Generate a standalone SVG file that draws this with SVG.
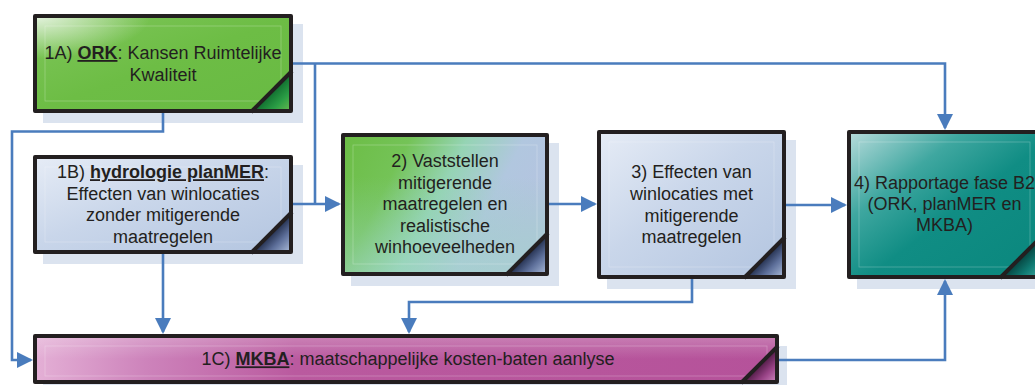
<svg xmlns="http://www.w3.org/2000/svg" width="1035" height="385" viewBox="0 0 1035 385">
  <style>
    .shadow { fill: #dbe3ef; }
    .frame { fill: none; stroke: #231f20; stroke-width: 4; stroke-linejoin: round; }
    .fold-line { stroke: #231f20; stroke-width: 4; stroke-linecap: butt; }
    .inner { fill: none; stroke: #ffffff; stroke-opacity: 0.28; stroke-width: 0.8; }
    .label { font-family: "Liberation Sans", Arial, sans-serif; font-size: 18px; fill: #231f20; text-anchor: middle; }
    .key { font-weight: bold; text-decoration: underline; }
    .conn { fill: none; stroke: #4a7cbd; stroke-width: 2.6; }
  </style>
  <defs>
    <marker id="arrow" markerUnits="userSpaceOnUse" markerWidth="16" markerHeight="16" refX="14" refY="8" orient="auto">
      <path d="M0,0 L16,8 L0,16 Z" fill="#4a7cbd"/>
    </marker>

    <!-- green (1A) -->
    <linearGradient id="gGreen" x1="0" y1="0" x2="1" y2="1">
      <stop offset="0" stop-color="#7fc65a"/>
      <stop offset="0.5" stop-color="#6dbd45"/>
      <stop offset="1" stop-color="#68ba43"/>
    </linearGradient>
    <radialGradient id="gGreenGlow" cx="0" cy="0" r="0.45">
      <stop offset="0" stop-color="#eaf5e6" stop-opacity="0.95"/>
      <stop offset="1" stop-color="#eaf5e6" stop-opacity="0"/>
    </radialGradient>

    <!-- light blue (1B, 3) -->
    <linearGradient id="gBlue" x1="0" y1="0" x2="1" y2="1">
      <stop offset="0" stop-color="#e6ecf6"/>
      <stop offset="0.45" stop-color="#c9d6ea"/>
      <stop offset="1" stop-color="#b3c5e0"/>
    </linearGradient>

    <!-- green to blue (2) -->
    <linearGradient id="gMix" x1="0" y1="0" x2="1" y2="0.35">
      <stop offset="0" stop-color="#6cbd45"/>
      <stop offset="0.3" stop-color="#74c357"/>
      <stop offset="0.55" stop-color="#95d4b4"/>
      <stop offset="0.8" stop-color="#b1c7df"/>
      <stop offset="1" stop-color="#b4c4e0"/>
    </linearGradient>
    <linearGradient id="gMixLow" x1="0" y1="0" x2="0" y2="1">
      <stop offset="0.3" stop-color="#8fd3b3" stop-opacity="0"/>
      <stop offset="1" stop-color="#9fd6c6" stop-opacity="0.55"/>
    </linearGradient>

    <!-- teal (4) -->
    <linearGradient id="gTeal" x1="0" y1="0" x2="1" y2="1">
      <stop offset="0" stop-color="#b8dcdc"/>
      <stop offset="0.3" stop-color="#3fa7a0"/>
      <stop offset="0.55" stop-color="#108d84"/>
      <stop offset="1" stop-color="#0a877d"/>
    </linearGradient>

    <!-- magenta (1C) -->
    <linearGradient id="gPink" x1="0" y1="0" x2="1" y2="0">
      <stop offset="0" stop-color="#e4b0d6"/>
      <stop offset="0.15" stop-color="#cd83bb"/>
      <stop offset="0.35" stop-color="#ba5a9f"/>
      <stop offset="1" stop-color="#b5529a"/>
    </linearGradient>
    <linearGradient id="gPinkTop" x1="0" y1="0" x2="0" y2="1">
      <stop offset="0" stop-color="#ffffff" stop-opacity="0.25"/>
      <stop offset="0.5" stop-color="#ffffff" stop-opacity="0"/>
    </linearGradient>

    <!-- folded corners -->
    <linearGradient id="fGreen" x1="0.5" y1="0.5" x2="1" y2="1">
      <stop offset="0" stop-color="#0f6a2e"/>
      <stop offset="0.5" stop-color="#2a9d45"/>
      <stop offset="1" stop-color="#6abd50"/>
    </linearGradient>
    <linearGradient id="fBlue" x1="0.5" y1="0.5" x2="1" y2="1">
      <stop offset="0" stop-color="#1e2a48"/>
      <stop offset="0.45" stop-color="#5d6f9a"/>
      <stop offset="1" stop-color="#aebfdc"/>
    </linearGradient>
    <linearGradient id="fTeal" x1="0.5" y1="0.5" x2="1" y2="1">
      <stop offset="0" stop-color="#05403c"/>
      <stop offset="0.5" stop-color="#0f7a72"/>
      <stop offset="1" stop-color="#3fa7a0"/>
    </linearGradient>
    <linearGradient id="fPink" x1="0.5" y1="0.5" x2="1" y2="1">
      <stop offset="0" stop-color="#4a1840"/>
      <stop offset="0.5" stop-color="#9a4488"/>
      <stop offset="1" stop-color="#d08ac0"/>
    </linearGradient>
  </defs>

  <!-- 1A: ORK -->
  <g id="node-1a">
    <rect class="shadow" x="43" y="24" width="260" height="99"/>
    <rect x="35" y="16" width="256" height="95" fill="url(#gGreen)"/>
    <rect x="35" y="16" width="256" height="95" fill="url(#gGreenGlow)"/>
    <rect class="inner" x="45" y="26" width="236" height="75"/>
    <polygon points="251,111 291,71 291,111" fill="url(#fGreen)"/>
    <rect class="frame" x="35" y="16" width="256" height="95"/>
    <line class="fold-line" x1="251" y1="112" x2="292" y2="71"/>
    <text class="label"><tspan x="163" y="59">1A) <tspan class="key">ORK</tspan>: Kansen Ruimtelijke</tspan><tspan x="163" y="80.6">Kwaliteit</tspan></text>
  </g>

  <!-- 1B: hydrologie planMER -->
  <g id="node-1b">
    <rect class="shadow" x="43" y="165" width="260" height="99"/>
    <rect x="35" y="157" width="256" height="95" fill="url(#gBlue)"/>
    <rect class="inner" x="45" y="167" width="236" height="75"/>
    <polygon points="251,252 291,212 291,252" fill="url(#fBlue)"/>
    <rect class="frame" x="35" y="157" width="256" height="95"/>
    <line class="fold-line" x1="251" y1="253" x2="292" y2="212"/>
    <text class="label"><tspan x="163" y="178.2">1B) <tspan class="key">hydrologie planMER</tspan>:</tspan><tspan x="163" y="199.8">Effecten van winlocaties</tspan><tspan x="163" y="221.4">zonder mitigerende</tspan><tspan x="163" y="243">maatregelen</tspan></text>
  </g>

  <!-- 2: mitigerende maatregelen -->
  <g id="node-2">
    <rect class="shadow" x="351" y="143" width="208" height="143"/>
    <rect x="343" y="135" width="204" height="139" fill="url(#gMix)"/>
    <rect x="343" y="135" width="204" height="139" fill="url(#gMixLow)"/>
    <rect class="inner" x="353" y="145" width="184" height="119"/>
    <polygon points="506,274 547,233 547,274" fill="url(#fBlue)"/>
    <rect class="frame" x="343" y="135" width="204" height="139"/>
    <line class="fold-line" x1="506" y1="275" x2="548" y2="233"/>
    <text class="label"><tspan x="445" y="167">2) Vaststellen</tspan><tspan x="445" y="188.6">mitigerende</tspan><tspan x="445" y="210.2">maatregelen en</tspan><tspan x="445" y="231.8">realistische</tspan><tspan x="445" y="253.4">winhoeveelheden</tspan></text>
  </g>

  <!-- 3: effecten met mitigerende maatregelen -->
  <g id="node-3">
    <rect class="shadow" x="607" y="140" width="189" height="149"/>
    <rect x="599" y="132" width="185" height="145" fill="url(#gBlue)"/>
    <rect class="inner" x="609" y="142" width="165" height="125"/>
    <polygon points="744,277 784,237 784,277" fill="url(#fBlue)"/>
    <rect class="frame" x="599" y="132" width="185" height="145"/>
    <line class="fold-line" x1="744" y1="278" x2="785" y2="237"/>
    <text class="label"><tspan x="691.5" y="178.4">3) Effecten van</tspan><tspan x="691.5" y="200">winlocaties met</tspan><tspan x="691.5" y="221.6">mitigerende</tspan><tspan x="691.5" y="243.2">maatregelen</tspan></text>
  </g>

  <!-- 4: rapportage -->
  <g id="node-4">
    <rect class="shadow" x="857" y="140" width="195" height="149"/>
    <rect x="849" y="132" width="191" height="145" fill="url(#gTeal)"/>
    <rect class="inner" x="859" y="142" width="171" height="125"/>
    <polygon points="1000,277 1040,237 1040,277" fill="url(#fTeal)"/>
    <rect class="frame" x="849" y="132" width="191" height="145"/>
    <line class="fold-line" x1="1000" y1="278" x2="1041" y2="237"/>
    <text class="label"><tspan x="944.5" y="188.6">4) Rapportage fase B2</tspan><tspan x="944.5" y="210">(ORK, planMER en</tspan><tspan x="944.5" y="231.4">MKBA)</tspan></text>
  </g>

  <!-- 1C: MKBA -->
  <g id="node-1c">
    <rect class="shadow" x="43" y="346" width="744" height="48"/>
    <rect x="35" y="336" width="742" height="46" fill="url(#gPink)"/>
    <rect x="35" y="336" width="742" height="46" fill="url(#gPinkTop)"/>
    <rect class="inner" x="45" y="346" width="722" height="30"/>
    <polygon points="741,382 777,346 777,382" fill="url(#fPink)"/>
    <rect class="frame" x="35" y="336" width="742" height="46"/>
    <line class="fold-line" x1="741" y1="383" x2="778" y2="346"/>
    <text class="label" x="408" y="365.3">1C) <tspan class="key">MKBA</tspan>: maatschappelijke kosten-baten aanlyse</text>
  </g>

  <!-- connectors (line ends 2px short of the arrow tip) -->
  <g id="connectors">
    <!-- 1A to 4, with branch down to 2 -->
    <polyline class="conn" points="293,63.5 945,63.5 945,128" marker-end="url(#arrow)"/>
    <polyline class="conn" points="315,63.5 315,204"/>
    <!-- 1B to 2 -->
    <polyline class="conn" points="293,204 339,204" marker-end="url(#arrow)"/>
    <!-- 1A to 1C -->
    <polyline class="conn" points="163,113 163,131.5 12,131.5 12,360 31,360" marker-end="url(#arrow)"/>
    <!-- 1B to 1C -->
    <polyline class="conn" points="163,254 163,332" marker-end="url(#arrow)"/>
    <!-- 2 to 3 -->
    <polyline class="conn" points="549,204 595,204" marker-end="url(#arrow)"/>
    <!-- 3 to 4 -->
    <polyline class="conn" points="786,205 845,205" marker-end="url(#arrow)"/>
    <!-- 3 to 1C -->
    <polyline class="conn" points="692,279 692,302 409,302 409,332" marker-end="url(#arrow)"/>
    <!-- 1C to 4 -->
    <polyline class="conn" points="779,360 945,360 945,281" marker-end="url(#arrow)"/>
  </g>
</svg>
